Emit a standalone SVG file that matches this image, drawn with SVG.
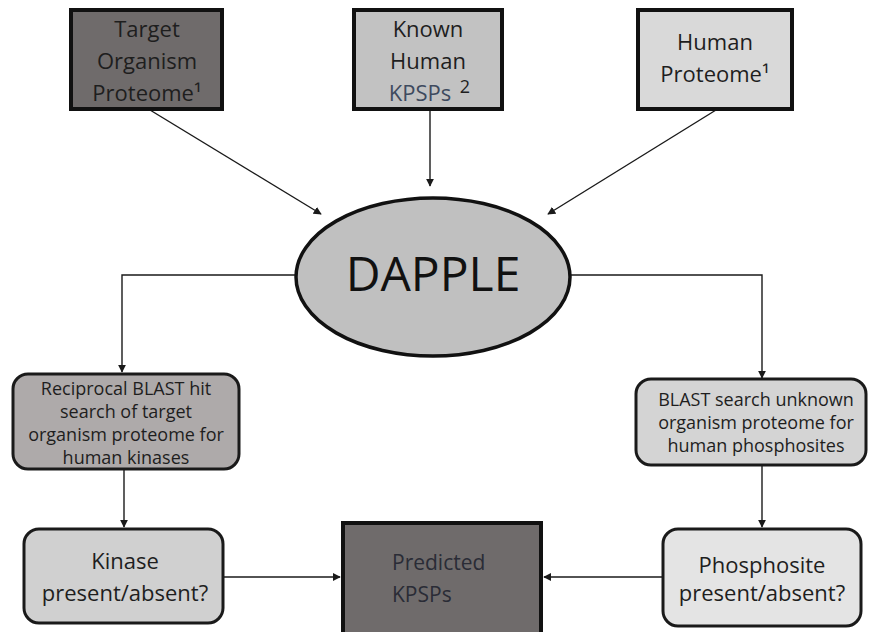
<svg xmlns="http://www.w3.org/2000/svg" width="869" height="632" viewBox="0 0 869 632">
<style>
.t{font-family:"Open Sans","Liberation Sans",sans-serif;fill:#1e1e1e;text-anchor:middle;font-weight:500}
.big{font-size:22px}
.sm{font-size:18px}
.box{stroke:#111;stroke-width:4}
.rb{stroke:#1a1a1a;stroke-width:3}
.c{fill:none;stroke:#1a1a1a;stroke-width:1.4}
.st{text-anchor:start}
</style>
<defs>
<marker id="ah" viewBox="0 0 10 10" refX="9" refY="5" markerWidth="8" markerHeight="8" markerUnits="userSpaceOnUse" orient="auto">
<path d="M0,0 L10,5 L0,10 z" fill="#1a1a1a"/>
</marker>
</defs>
<g id="connectors">
<line class="c" x1="150" y1="110" x2="321" y2="214" marker-end="url(#ah)"/>
<line class="c" x1="430" y1="110" x2="430" y2="186" marker-end="url(#ah)"/>
<line class="c" x1="716" y1="110" x2="548" y2="214" marker-end="url(#ah)"/>
<polyline class="c" points="296,275 122,275 122,372" marker-end="url(#ah)"/>
<polyline class="c" points="571,275 762,275 762,378" marker-end="url(#ah)"/>
<line class="c" x1="124" y1="470" x2="124" y2="527" marker-end="url(#ah)"/>
<line class="c" x1="762" y1="465" x2="762" y2="527" marker-end="url(#ah)"/>
<line class="c" x1="223" y1="577" x2="340" y2="577" marker-end="url(#ah)"/>
<line class="c" x1="662" y1="577" x2="544" y2="577" marker-end="url(#ah)"/>
</g>
<g id="target">
<rect class="box" x="71" y="10" width="151" height="99" fill="#6f6b6b"/>
<text class="t big"><tspan x="147" y="37">Target</tspan><tspan x="147" y="69">Organism</tspan><tspan x="147" y="101">Proteome¹</tspan></text>
</g>
<g id="known">
<rect class="box" x="354" y="10" width="148" height="99" fill="#c2c2c2"/>
<text class="t big"><tspan x="428" y="37">Known</tspan><tspan x="428" y="69">Human</tspan><tspan x="420" y="101" fill="#3e4a5e">KPSPs</tspan><tspan x="465" y="93" font-size="18">2</tspan></text>
</g>
<g id="human">
<rect class="box" x="638" y="10" width="154" height="99" fill="#d9d9d9"/>
<text class="t big"><tspan x="715" y="50">Human</tspan><tspan x="715" y="82">Proteome¹</tspan></text>
</g>
<g id="dapple">
<ellipse cx="433" cy="277" rx="137" ry="79" fill="#c0c0c0" stroke="#111" stroke-width="3.5"/>
<text class="t" x="433" y="291" font-size="48" style="fill:#111">DAPPLE</text>
</g>
<g id="reciprocal">
<rect class="rb" x="13" y="374" width="226" height="95" rx="15" fill="#aeaaaa"/>
<text class="t sm"><tspan x="126" y="395">Reciprocal BLAST hit</tspan><tspan x="126" y="418">search of target</tspan><tspan x="126" y="441">organism proteome for</tspan><tspan x="126" y="464">human kinases</tspan></text>
</g>
<g id="blastsearch">
<rect class="rb" x="636" y="379" width="230" height="86" rx="15" fill="#d4d4d4"/>
<text class="t sm"><tspan x="756" y="406">BLAST search unknown</tspan><tspan x="756" y="429">organism proteome for</tspan><tspan x="756" y="452">human phosphosites</tspan></text>
</g>
<g id="kinase">
<rect class="rb" x="24" y="529" width="199" height="94" rx="15" fill="#d0d0d0"/>
<text class="t big"><tspan x="125" y="569">Kinase</tspan><tspan x="125" y="601">present/absent?</tspan></text>
</g>
<g id="predicted">
<rect class="box" x="343" y="523" width="198" height="115" fill="#6f6b6b"/>
<text class="t st" font-size="21" style="fill:#2a2c36"><tspan x="392" y="570">Predicted</tspan><tspan x="392" y="602">KPSPs</tspan></text>
</g>
<g id="phosphosite">
<rect class="rb" x="663" y="529" width="198" height="97" rx="15" fill="#e4e4e4"/>
<text class="t big"><tspan x="762" y="573">Phosphosite</tspan><tspan x="762" y="601">present/absent?</tspan></text>
</g>
</svg>
